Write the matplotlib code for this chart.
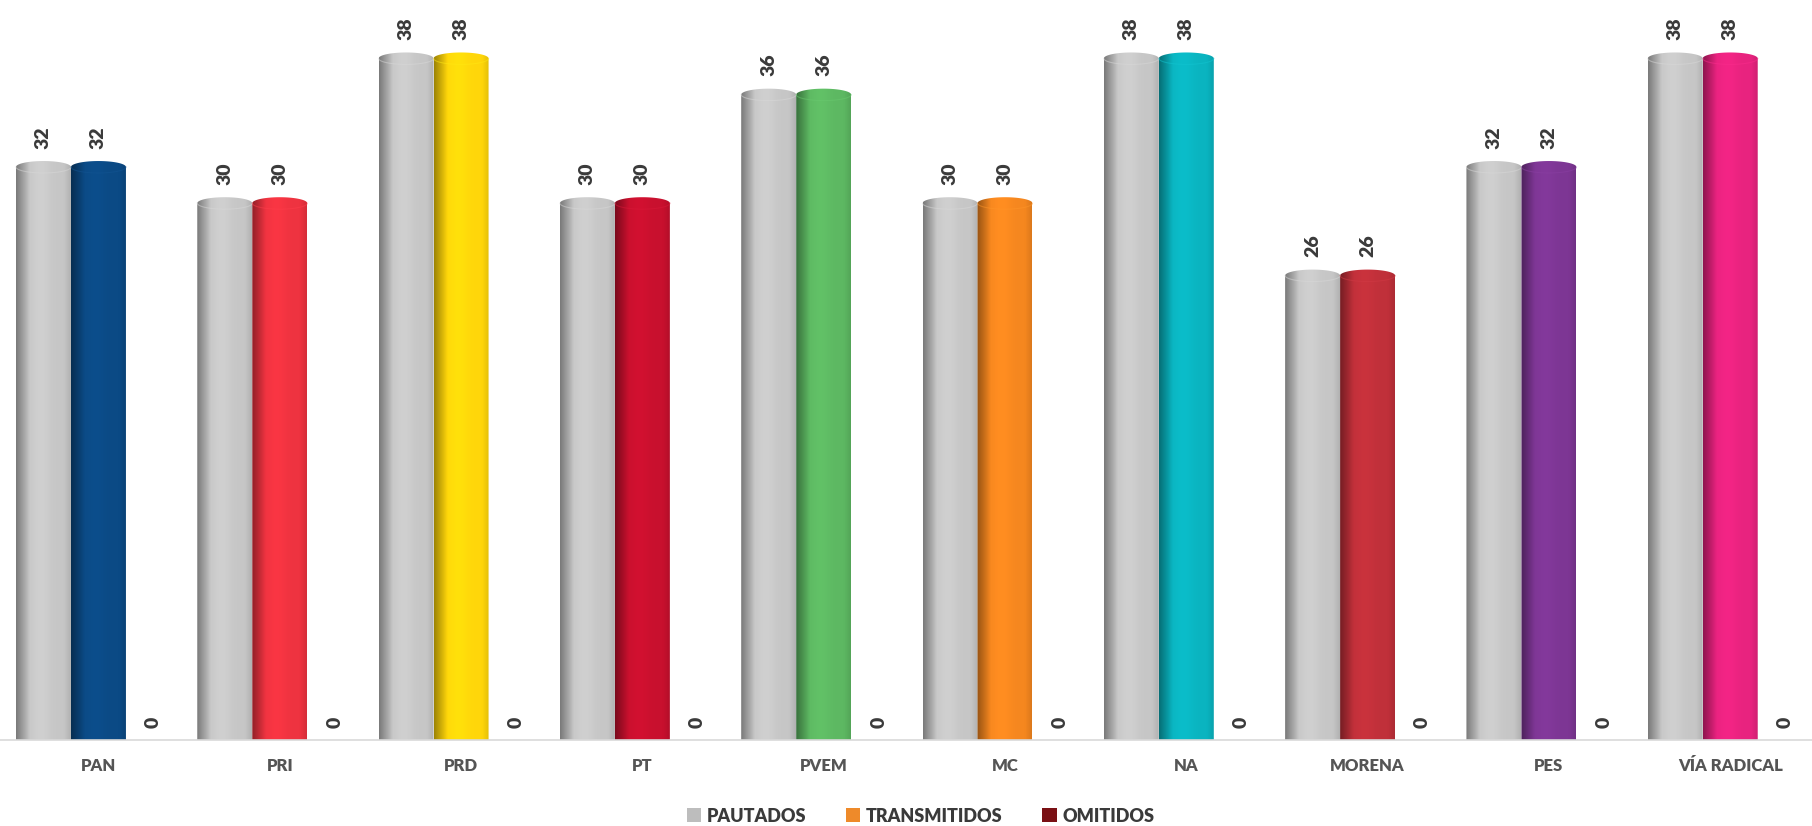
"""Spots pautados / transmitidos / omitidos por partido (cylinder-style bars)."""

import numpy as np
import matplotlib
matplotlib.use("Agg")
import matplotlib.pyplot as plt
from matplotlib.path import Path
from matplotlib.patches import PathPatch, Patch
from matplotlib.colors import to_rgb

PARTIES = ["PAN", "PRI", "PRD", "PT", "PVEM", "MC", "NA", "MORENA", "PES", "VÍA RADICAL"]
PAUTADOS = [32, 30, 38, 30, 36, 30, 38, 26, 32, 38]
TRANSMITIDOS = [32, 30, 38, 30, 36, 30, 38, 26, 32, 38]
OMITIDOS = [0, 0, 0, 0, 0, 0, 0, 0, 0, 0]
SERIES = ["PAUTADOS", "TRANSMITIDOS", "OMITIDOS"]

GREY = "#C6C6C6"
PARTY_COLORS = ["#0B4A85", "#EE3340", "#FFD60A", "#C8102E", "#5DB862",
                "#F5871F", "#0AB4C0", "#C0303A", "#7D3694", "#E8237F"]
LEGEND_COLORS = ["#BDBDBD", "#EE8A2A", "#7A1014"]
TEXT = "#3A3A3A"

plt.rcParams["font.family"] = ["Lato", "DejaVu Sans"]


def shade(color, n=60):
    """Horizontal cylinder shading for one bar."""
    t = np.linspace(0, 1, n)
    f = 0.62 + 0.38 * np.clip(t / 0.25, 0, 1)
    f = f + 0.05 * np.exp(-((t - 0.45) / 0.18) ** 2)
    f = f * (1 - 0.10 * np.clip((t - 0.88) / 0.12, 0, 1))
    rgb = np.clip(np.outer(f, to_rgb(color)), 0, 1)
    return rgb[np.newaxis, :, :]


def cylinder(ax, patch, color, cap):
    x0, w, h = patch.get_x(), patch.get_width(), patch.get_height()
    patch.set_visible(False)
    if h <= 0:
        return
    body = max(h - cap, 0)
    ang = np.linspace(0, np.pi, 40)
    top = np.column_stack([x0 + w / 2 + w / 2 * np.cos(ang), body + cap * np.sin(ang)])
    verts = np.vstack([[x0, 0], [x0 + w, 0], top, [x0, 0]])
    clip = PathPatch(Path(verts, closed=True), transform=ax.transData,
                     facecolor="none", edgecolor="none")
    ax.add_patch(clip)
    im = ax.imshow(shade(color), extent=[x0, x0 + w, 0, h], aspect="auto",
                   interpolation="bilinear", zorder=2)
    im.set_clip_path(clip)
    # faint rim of the top face
    lo = np.column_stack([x0 + w / 2 + w / 2 * np.cos(-ang), body + cap * np.sin(-ang)])
    light = tuple(min(1, c * 1.05 + 0.03) for c in to_rgb(color))
    ax.plot(lo[:, 0], lo[:, 1], color=light, lw=0.8, zorder=3, alpha=0.5)


def main():
    fig = plt.figure(figsize=(18.12, 8.26), dpi=100)
    ax = fig.add_axes([0, 86 / 826, 1, 1 - 86 / 826])

    x = np.arange(len(PARTIES))
    w = 0.3033
    cap = 0.33

    b1 = ax.bar(x - w, PAUTADOS, w, color=GREY)
    b2 = ax.bar(x, TRANSMITIDOS, w, color=PARTY_COLORS)
    b3 = ax.bar(x + w, OMITIDOS, w, color=LEGEND_COLORS[2])

    for p in b1:
        cylinder(ax, p, GREY, cap)
    for p, c in zip(b2, PARTY_COLORS):
        cylinder(ax, p, c, cap)
    for p in b3:
        cylinder(ax, p, LEGEND_COLORS[2], cap)

    for bars in (b1, b2, b3):
        for p in bars:
            ax.annotate(f"{p.get_height():.0f}",
                        (p.get_x() + p.get_width() / 2, p.get_height()),
                        xytext=(0, 9), textcoords="offset points",
                        rotation=90, ha="center", va="bottom",
                        fontsize=14, fontweight="heavy", color=TEXT)

    ax.set_xlim(-0.543, 9.451)
    ax.set_ylim(0, 40.9)
    ax.set_xticks(x)
    ax.set_xticklabels(PARTIES, fontsize=12, fontweight="heavy", color="#555555")
    ax.tick_params(axis="x", length=0, pad=13)
    ax.set_yticks([])
    for s in ("top", "left", "right"):
        ax.spines[s].set_visible(False)
    ax.spines["bottom"].set_color("#D9D9D9")
    ax.spines["bottom"].set_linewidth(1.2)
    ax.set_facecolor("none")

    handles = [Patch(facecolor=c, edgecolor="none") for c in LEGEND_COLORS]
    fig.legend(handles, SERIES, loc="center", bbox_to_anchor=(0.508, 0.012),
               ncol=3, frameon=False, handlelength=0.8, handleheight=0.8,
               handletextpad=0.3, columnspacing=2.2,
               prop={"size": 13, "weight": "heavy"}, labelcolor=TEXT)

    fig.savefig("out.png", dpi=100)


if __name__ == "__main__":
    main()
